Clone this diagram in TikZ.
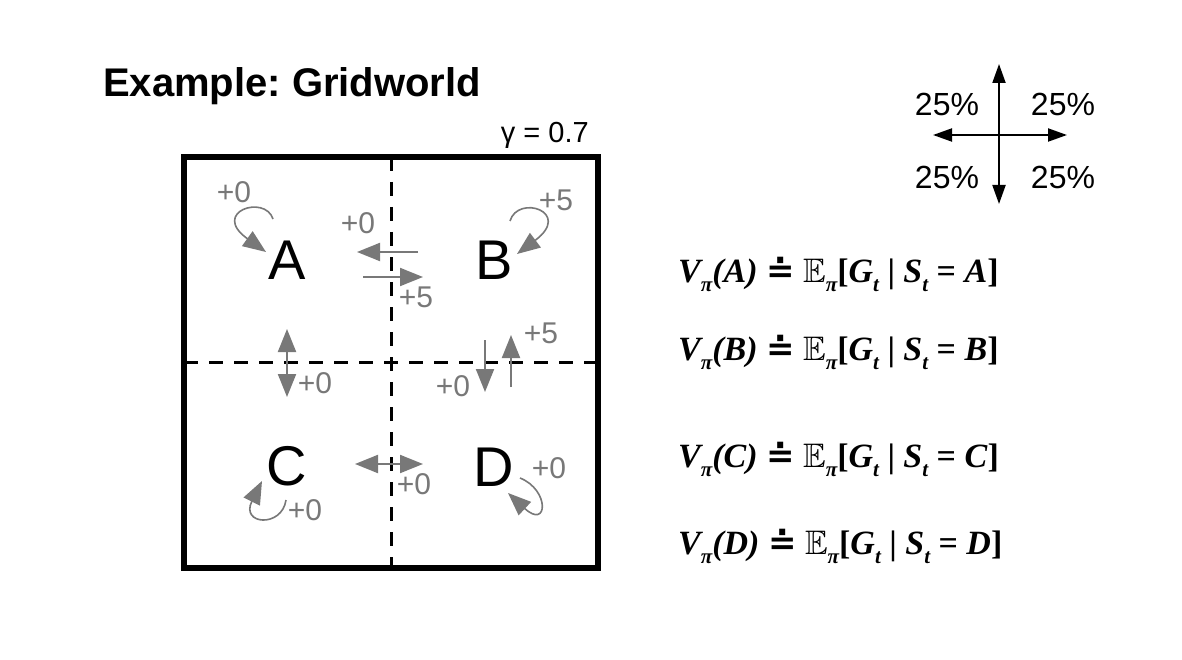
\documentclass[tikz,border=0pt]{standalone}
\usepackage{amssymb}
\usepackage{fontspec}
\setmainfont{Liberation Sans}
\newfontfamily\eqfont{Liberation Serif}
\newfontfamily\symfont{DejaVu Sans}
\usetikzlibrary{arrows.meta}
\definecolor{rwgray}{RGB}{120,120,120}
\tikzset{
  lbl/.style={font=\fontsize{56}{60}\selectfont, inner sep=0pt},
  rw/.style={text=rwgray, font=\fontsize{30}{32}\selectfont, inner sep=0pt},
  pct/.style={font=\fontsize{32}{34}\selectfont, inner sep=0pt},
  garrow/.style={draw=rwgray, line width=2pt, -{Triangle[length=23pt,width=18pt]}},
  gloop/.style={garrow, line width=1.6pt},
  karrow/.style={draw=black, line width=2pt, -{Triangle[length=19pt,width=13pt]}},
  celldiv/.style={dash pattern=on 14pt off 11pt, line width=3pt},
  eqline/.style={font=\eqfont\fontsize{34}{38}\selectfont\bfseries\itshape, inner sep=0pt, anchor=base west},
}
\newcommand\sbs[1]{\raisebox{-0.28em}{\fontsize{21}{24}\selectfont #1}}
\newcommand\deq{{\symfont\bfseries\upshape ≐}}
\newcommand\Vline[1]{V\sbs{π}(#1) \deq\ $\mathbb{E}$\sbs{π}\textup{[}G\sbs{t} \textup{|} S\sbs{t} \textup{=} #1\textup{]}}
\frenchspacing
\begin{document}
\begin{tikzpicture}[x=1pt,y=-1pt]
\useasboundingbox[fill=white] (0,0) rectangle (1182,660);

% title
\node[font=\fontsize{40}{44}\selectfont\bfseries, inner sep=0pt, anchor=base west] (title) at (103,97) {Example: Gridworld};
\node[font=\fontsize{29}{32}\selectfont, inner sep=0pt, anchor=base east] (gamma) at (589,143) {γ = 0.7};

% grid
\draw[celldiv] (391,157) -- (391,568);
\draw[celldiv] (184,362) -- (598,362);
\draw[line width=6pt] (184,157) rectangle (598,568);

% states
\node[lbl] (A) at (287,260) {A};
\node[lbl] (B) at (494,260) {B};
\node[lbl] (C) at (287,466) {C};
\node[lbl] (D) at (494,467) {D};

% self loops
\draw[gloop] (273,219) .. controls (265,194) and (210,212) .. (266,252);
\draw[gloop] (510,221) .. controls (518,194) and (573,212) .. (517,254);
\draw[gloop] (286,500) .. controls (282,528) and (240,525) .. (262,481);
\draw[gloop] (520,478) .. controls (550,490) and (548,530) .. (508,493);

% A <-> B
\draw[garrow] (418,252) -- (357,252);
\draw[garrow] (363,277) -- (423,277);
% A <-> C
\draw[garrow] (287,375) -- (287,329);
\draw[garrow] (287,350) -- (287,397);
% B <-> D
\draw[garrow] (485,340) -- (485,392);
\draw[garrow] (511,387) -- (511,335);
% C <-> D
\draw[garrow] (400,464) -- (355,464);
\draw[garrow] (378,464) -- (423,464);

% rewards
\node[rw] (rA) at (234,192) {+0};
\node[rw] (rBA) at (358,223) {+0};
\node[rw] (rB) at (556,200) {+5};
\node[rw] (rAB) at (416,297) {+5};
\node[rw] (rBD) at (541,333) {+5};
\node[rw] (rAC) at (315,383) {+0};
\node[rw] (rDB) at (453,386) {+0};
\node[rw] (rC) at (305,510) {+0};
\node[rw] (rCD) at (414,484) {+0};
\node[rw] (rD) at (549,468) {+0};

% policy cross
\coordinate (ctr) at (999,135);
\coordinate (pu) at (999,64);
\coordinate (pd) at (999,204);
\coordinate (pl) at (933,135);
\coordinate (pr) at (1067,135);
\draw[karrow] (ctr) -- (pu);
\draw[karrow] (ctr) -- (pd);
\draw[karrow] (ctr) -- (pl);
\draw[karrow] (ctr) -- (pr);
\node[pct] (p1) at (947,104) {25\%};
\node[pct] (p2) at (1063,104) {25\%};
\node[pct] (p3) at (947,177) {25\%};
\node[pct] (p4) at (1063,177) {25\%};

% value definitions
\node[eqline] (vA) at (678,282) {\Vline{A}};
\node[eqline] (vB) at (678,360) {\Vline{B}};
\node[eqline] (vC) at (678,467) {\Vline{C}};
\node[eqline] (vD) at (678,554) {\Vline{D}};
\end{tikzpicture}
\end{document}
